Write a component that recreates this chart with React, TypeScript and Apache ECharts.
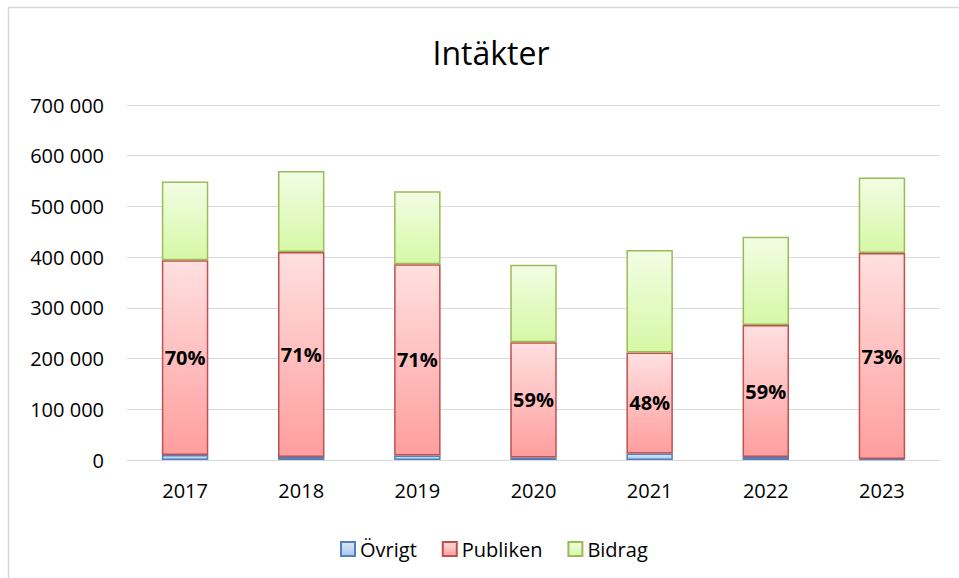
import React, { useEffect, useRef } from "react";
import * as echarts from "echarts";

const years = ["2017", "2018", "2019", "2020", "2021", "2022", "2023"];
const ovrigt = [10000, 6000, 9000, 5000, 13000, 6000, 2000];
const publiken = [384000, 404000, 377000, 227000, 199000, 260000, 406000];
const bidrag = [155000, 160000, 144000, 153000, 202000, 174000, 149000];
const yTicks = [0, 100000, 200000, 300000, 400000, 500000, 600000, 700000];

const FONT = "'Open Sans', 'Noto Sans', sans-serif";

const fmt = (v: number) => String(v).replace(/\B(?=(\d{3})+(?!\d))/g, " ");

const grad = (top: string, bottom: string) =>
  new echarts.graphic.LinearGradient(0, 0, 0, 1, [
    { offset: 0, color: top },
    { offset: 1, color: bottom },
  ]);

export default function App() {
  const ref = useRef<HTMLDivElement>(null);
  useEffect(() => {
    if (!ref.current) return;
    const chart = echarts.init(ref.current, undefined, { renderer: "svg" });
    const totals = years.map((_, i) => ovrigt[i] + publiken[i] + bidrag[i]);
    chart.setOption({
      animation: false,
      backgroundColor: "#ffffff",
      title: {
        text: "Intäkter",
        left: 486,
        textAlign: "center",
        top: 31,
        textStyle: { fontFamily: FONT, fontSize: 32, fontWeight: "normal", color: "#000" },
      },
      graphic: [
        {
          type: "rect",
          shape: { x: 8.5, y: 7.5, width: 1200, height: 1200 },
          style: { fill: "none", stroke: "#d9d9d9", lineWidth: 1.5 },
          silent: true,
        },
      ],
      legend: {
        top: 539,
        left: 340,
        padding: 0,
        itemWidth: 14,
        itemHeight: 14,
        itemGap: 25,
        icon: "rect",
        textStyle: { fontFamily: FONT, fontSize: 20, lineHeight: 20, color: "#000", padding: [0, 0, 0, 0] },
        data: ["Övrigt", "Publiken", "Bidrag"],
      },
      grid: { left: 127, right: 19, top: 105, bottom: 118 },
      xAxis: {
        type: "category",
        data: years,
        axisLine: { lineStyle: { color: "#d9d9d9", width: 1 } },
        axisTick: { show: false },
        axisLabel: { fontFamily: FONT, fontSize: 20, color: "#000", margin: 20 },
      },
      yAxis: {
        type: "value",
        min: yTicks[0],
        max: yTicks[yTicks.length - 1],
        interval: 100000,
        axisLine: { show: false },
        axisTick: { show: false },
        splitLine: { lineStyle: { color: "#d9d9d9", width: 1 } },
        axisLabel: {
          fontFamily: FONT,
          fontSize: 20,
          color: "#000",
          margin: 23,
          formatter: (v: number) => fmt(v),
        },
      },
      series: [
        {
          name: "Övrigt",
          type: "bar",
          stack: "t",
          barWidth: "40%",
          data: ovrigt,
          itemStyle: {
            color: grad("#dde9f8", "#a9c5ee"),
            borderColor: "#4f81bd",
            borderWidth: 1.5,
          },
        },
        {
          name: "Publiken",
          type: "bar",
          stack: "t",
          data: publiken,
          itemStyle: {
            color: grad("#ffe0e0", "#ff9e9e"),
            borderColor: "#c0504d",
            borderWidth: 1.5,
          },
          label: {
            show: true,
            position: "inside",
            fontFamily: FONT,
            fontSize: 20,
            fontWeight: "bold",
            color: "#000",
            formatter: (p: any) => Math.round((publiken[p.dataIndex] / totals[p.dataIndex]) * 100) + "%",
          },
        },
        {
          name: "Bidrag",
          type: "bar",
          stack: "t",
          data: bidrag,
          itemStyle: {
            color: grad("#f2fde4", "#d6f8a6"),
            borderColor: "#9bbb59",
            borderWidth: 1.5,
          },
        },
      ],
    });
    return () => chart.dispose();
  }, []);
  return (
    <div
      ref={ref}
      style={{ position: "absolute", left: 0, top: 0, width: 959, height: 578 }}
    />
  );
}
